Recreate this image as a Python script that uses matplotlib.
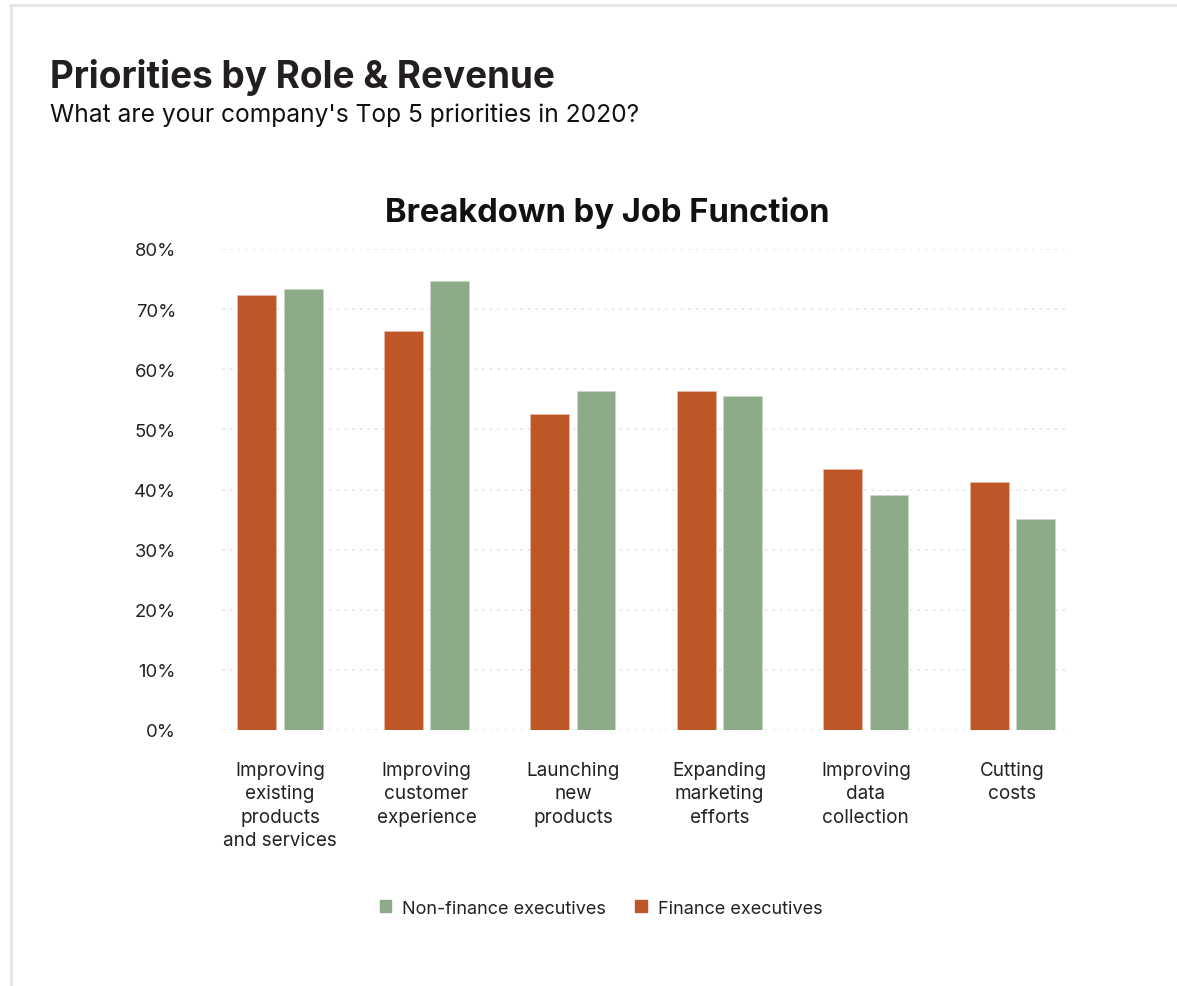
import matplotlib.pyplot as plt
import numpy as np
from matplotlib.lines import Line2D
from matplotlib.patches import Patch
from matplotlib.ticker import FuncFormatter

plt.rcParams["font.family"] = ["Inter", "DejaVu Sans"]

CATEGORIES = [
    "Improving\nexisting\nproducts\nand services",
    "Improving\ncustomer\nexperience",
    "Launching\nnew\nproducts",
    "Expanding\nmarketing\nefforts",
    "Improving\ndata\ncollection",
    "Cutting\ncosts",
]
FINANCE = [72.4, 66.4, 52.5, 56.4, 43.4, 41.2]
NON_FINANCE = [73.3, 74.6, 56.4, 55.5, 39.1, 35.1]
Y_TICKS = [0, 10, 20, 30, 40, 50, 60, 70, 80]

ORANGE = "#BE5628"
GREEN = "#8DAA89"
TEXT = "#222222"

W, H = 1177, 987
fig = plt.figure(figsize=(W / 100, H / 100), dpi=100)

# card border on the top and left edges
fig.add_artist(Line2D([10 / W, 1], [1 - 6 / H, 1 - 6 / H], color="#e6e6e6", lw=2.2))
fig.add_artist(Line2D([11 / W, 11 / W], [0, 1 - 6 / H], color="#e6e6e6", lw=2.2))

fig.text(50 / W, 1 - 78 / H, "Priorities by Role & Revenue", fontsize=26.6,
         fontweight="bold", color="#231f20", va="center", ha="left")
fig.text(50 / W, 1 - 115 / H, "What are your company's Top 5 priorities in 2020?",
         fontsize=17.7, color="#111111", va="center", ha="left")

ax = fig.add_axes([222 / W, (H - 731) / H, (1068 - 222) / W, (731 - 250) / H])
x = np.arange(len(CATEGORIES))
bw = 0.265
ax.bar(x - 0.158, FINANCE, width=bw, color=ORANGE, edgecolor="#e9b9a3", linewidth=0.6, zorder=3)
ax.bar(x + 0.158, NON_FINANCE, width=bw, color=GREEN, edgecolor="#c9d8c7", linewidth=0.6, zorder=3)

ax.set_xlim(-0.396, 5.38)
ax.set_ylim(0, 80)
ax.set_yticks(Y_TICKS)
ax.yaxis.set_major_formatter(FuncFormatter(lambda v, _: f"{v:.0f}%"))
ax.grid(axis="y", color="#e6e6e6", linestyle=(0, (2, 3)), linewidth=1.1, zorder=0)
ax.set_xticks(x)
ax.set_xticklabels(CATEGORIES, fontsize=13.6, color=TEXT, linespacing=1.4, va="top")
ax.tick_params(axis="x", length=0, pad=22)
ax.tick_params(axis="y", length=0, pad=33, labelsize=13.3, labelcolor=TEXT)
for s in ax.spines.values():
    s.set_visible(False)

fig.text(607 / W, 1 - 213 / H, "Breakdown by Job Function", fontsize=23.6,
         fontweight="bold", color="#111111", ha="center", va="center")

handles = [Patch(color=GREEN, label="Non-finance executives"),
           Patch(color=ORANGE, label="Finance executives")]
fig.legend(handles=handles, loc="center", bbox_to_anchor=(601 / W, 1 - 909 / H), ncol=2,
           frameon=False, fontsize=13, handlelength=0.65, handleheight=0.65,
           handletextpad=0.6, columnspacing=1.6, labelcolor=TEXT)

fig.savefig("out.png", dpi=100, facecolor="white")
